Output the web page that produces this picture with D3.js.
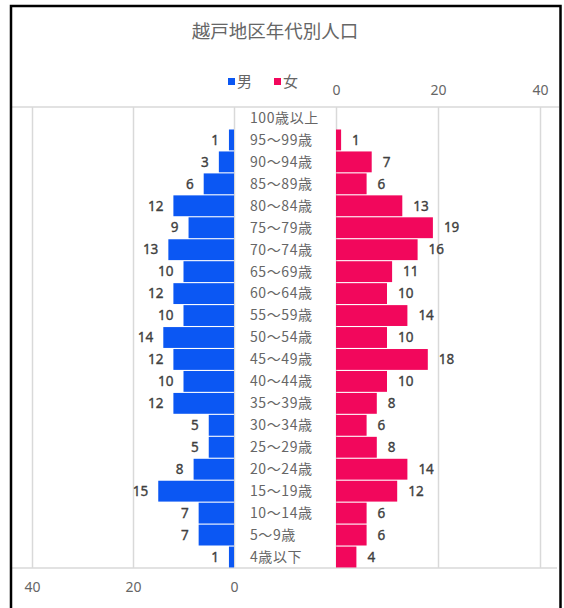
<!DOCTYPE html>
<html>
<head>
<meta charset="utf-8">
<script src="https://cdn.jsdelivr.net/npm/d3@7"></script>
<style>
  html, body { margin: 0; padding: 0; background: #fff; }
  svg { display: block; }
  text { font-family: "Noto Sans CJK JP", "Noto Sans", sans-serif; }
</style>
</head>
<body>
<svg id="chart" width="564" height="608"></svg>
<script>
// Age groups, oldest first (top of the pyramid)
const ageGroups = [
  "100歳以上", "95～99歳", "90～94歳", "85～89歳", "80～84歳", "75～79歳",
  "70～74歳", "65～69歳", "60～64歳", "55～59歳", "50～54歳", "45～49歳",
  "40～44歳", "35～39歳", "30～34歳", "25～29歳", "20～24歳", "15～19歳",
  "10～14歳", "5～9歳", "4歳以下"
];
const male   = [0, 1, 3, 6, 12, 9, 13, 10, 12, 10, 14, 12, 10, 12, 5, 5, 8, 15, 7, 7, 1];
const female = [0, 1, 7, 6, 13, 19, 16, 11, 10, 14, 10, 18, 10, 8, 6, 8, 14, 12, 6, 6, 4];
const tickValues = [0, 20, 40];
const seriesNames = ["男", "女"];
const title = "越戸地区年代別人口";

const blue = "#0b57f3";
const pink = "#f2075c";
const grid = "#d9d9d9";
const textGray = "#666666";
const valueGray = "#404040";

const svg = d3.select("#chart");

const plotTop = 107, plotBottom = 568;
const xMale = d3.scaleLinear().domain([0, 40]).range([234, 32]);
const xFemale = d3.scaleLinear().domain([0, 40]).range([336, 540]);
const y = d3.scaleBand().domain(ageGroups).range([plotTop, plotBottom]).paddingInner(0.05).paddingOuter(0.025);

// Horizontal frame lines of the plot area
svg.append("line").attr("x1", 12).attr("x2", 559).attr("y1", plotTop).attr("y2", plotTop)
  .attr("stroke", grid).attr("stroke-width", 1.5);
svg.append("line").attr("x1", 12).attr("x2", 557).attr("y1", plotBottom).attr("y2", plotBottom)
  .attr("stroke", grid).attr("stroke-width", 1.5);

// Male axis (bottom) with vertical gridlines
const maleAxis = svg.append("g")
  .attr("transform", `translate(0,${plotBottom})`)
  .call(d3.axisBottom(xMale).tickValues(tickValues).tickSize(-(plotBottom - plotTop)).tickPadding(14));
maleAxis.select(".domain").remove();
maleAxis.selectAll(".tick line").attr("stroke", grid).attr("stroke-width", 1.5);
maleAxis.selectAll(".tick text").attr("fill", textGray).attr("font-size", 14)
  .style("font-family", "'Noto Sans', sans-serif");

// Female axis (top) with vertical gridlines
const femaleAxis = svg.append("g")
  .attr("transform", `translate(0,${plotTop})`)
  .call(d3.axisTop(xFemale).tickValues(tickValues).tickSize(-(plotBottom - plotTop)).tickPadding(12));
femaleAxis.select(".domain").remove();
femaleAxis.selectAll(".tick line").attr("stroke", grid).attr("stroke-width", 1.5);
femaleAxis.selectAll(".tick text").attr("fill", textGray).attr("font-size", 14)
  .style("font-family", "'Noto Sans', sans-serif");

// Male bars
svg.append("g").selectAll("rect").data(ageGroups).join("rect")
  .attr("x", (d, i) => xMale(male[i]))
  .attr("y", d => y(d))
  .attr("width", (d, i) => xMale(0) - xMale(male[i]))
  .attr("height", y.bandwidth())
  .attr("fill", blue);

// Female bars
svg.append("g").selectAll("rect").data(ageGroups).join("rect")
  .attr("x", xFemale(0))
  .attr("y", d => y(d))
  .attr("width", (d, i) => xFemale(female[i]) - xFemale(0))
  .attr("height", y.bandwidth())
  .attr("fill", pink);

// Value labels
svg.append("g").selectAll("text").data(ageGroups).join("text")
  .filter((d, i) => male[i] > 0)
  .attr("x", d => xMale(male[ageGroups.indexOf(d)]) - 10)
  .attr("y", d => y(d) + y.bandwidth() / 2)
  .attr("dy", "0.35em")
  .attr("text-anchor", "end")
  .attr("font-size", 13.5)
  .attr("fill", valueGray)
  .attr("stroke", valueGray).attr("stroke-width", 0.35)
  .style("font-family", "'Noto Sans', sans-serif")
  .text(d => male[ageGroups.indexOf(d)]);

svg.append("g").selectAll("text").data(ageGroups).join("text")
  .filter((d, i) => female[i] > 0)
  .attr("x", d => xFemale(female[ageGroups.indexOf(d)]) + 11)
  .attr("y", d => y(d) + y.bandwidth() / 2)
  .attr("dy", "0.35em")
  .attr("text-anchor", "start")
  .attr("font-size", 13.5)
  .attr("fill", valueGray)
  .attr("stroke", valueGray).attr("stroke-width", 0.35)
  .style("font-family", "'Noto Sans', sans-serif")
  .text(d => female[ageGroups.indexOf(d)]);

// Age group labels between the two halves
svg.append("g").selectAll("text").data(ageGroups).join("text")
  .attr("x", 250)
  .attr("y", d => y(d) + y.bandwidth() / 2)
  .attr("dy", "0.35em")
  .attr("font-size", 14)
  .attr("letter-spacing", 0.6)
  .attr("fill", textGray)
  .text(d => d);

// Title
svg.append("text")
  .attr("x", 275).attr("y", 32).attr("dy", "0.35em")
  .attr("text-anchor", "middle")
  .attr("font-size", 18.5)
  .attr("fill", textGray)
  .text(title);

// Legend
const legend = svg.append("g");
[[228, blue], [274, pink]].forEach(([lx, c], i) => {
  legend.append("rect").attr("x", lx).attr("y", 78).attr("width", 7).attr("height", 7).attr("fill", c);
  legend.append("text").attr("x", lx + 9).attr("y", 82).attr("dy", "0.35em")
    .attr("font-size", 15).attr("fill", textGray).text(seriesNames[i]);
});

// Outer frame
svg.append("path")
  .attr("d", "M11,608 V6 H560.5 V608")
  .attr("fill", "none").attr("stroke", "#000").attr("stroke-width", 2.5);
</script>
</body>
</html>
